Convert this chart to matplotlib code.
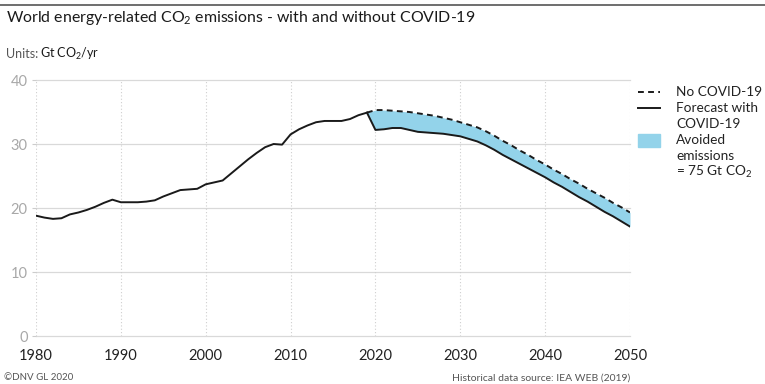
import matplotlib
matplotlib.use("Agg")
import matplotlib.pyplot as plt
from matplotlib.lines import Line2D
from matplotlib.patches import Rectangle

plt.rcParams['font.family'] = ['Lato', 'DejaVu Sans']
plt.rcParams['mathtext.fontset'] = 'custom'
plt.rcParams['mathtext.rm'] = 'Lato'
plt.rcParams['mathtext.bf'] = 'Lato:bold'
plt.rcParams['mathtext.default'] = 'rm'

hist_years = list(range(1980, 2020))
hist_values = [18.8, 18.5, 18.3, 18.4, 19.0, 19.3, 19.7, 20.2, 20.8, 21.3,
               20.9, 20.9, 20.9, 21.0, 21.2, 21.8, 22.3, 22.8, 22.9, 23.0,
               23.7, 24.0, 24.3, 25.4, 26.5, 27.6, 28.6, 29.5, 30.0, 29.9,
               31.5, 32.3, 32.9, 33.4, 33.6, 33.6, 33.6, 33.9, 34.5, 34.9]

fc_years = list(range(2019, 2051))
no_covid = [34.9, 35.3, 35.3, 35.2, 35.1, 35.0, 34.8, 34.6, 34.4, 34.1,
            33.8, 33.4, 33.0, 32.6, 32.0, 31.3, 30.5, 29.8, 29.0, 28.3,
            27.5, 26.8, 26.0, 25.3, 24.5, 23.8, 23.0, 22.3, 21.6, 20.8,
            20.1, 19.3]
with_covid = [34.9, 32.2, 32.3, 32.5, 32.5, 32.2, 31.9, 31.8, 31.7, 31.6,
              31.4, 31.2, 30.8, 30.4, 29.8, 29.1, 28.3, 27.6, 26.9, 26.2,
              25.5, 24.8, 24.0, 23.3, 22.5, 21.7, 21.0, 20.2, 19.4, 18.7,
              17.9, 17.1]

x_ticks = [1980, 1990, 2000, 2010, 2020, 2030, 2040, 2050]
y_ticks = [0, 10, 20, 30, 40]

W, H = 765, 384
fig = plt.figure(figsize=(7.65, 3.84), dpi=100)
ax = fig.add_axes([36 / W, 1 - 336 / H, (630 - 36) / W, (336 - 80) / H])

fill_color = '#93d3ea'
ax.fill_between(fc_years, with_covid, no_covid, color=fill_color, lw=0, zorder=2)
ax.plot(hist_years, hist_values, color='#1a1a1a', lw=1.4, zorder=4)
ax.plot(fc_years, with_covid, color='#1a1a1a', lw=1.4, zorder=4)
ax.plot(fc_years, no_covid, color='#1a1a1a', lw=1.4, ls=(0, (3, 2.2)), zorder=4)

ax.set_xlim(1980, 2050)
ax.set_ylim(0, 40)
ax.set_xticks(x_ticks)
ax.set_yticks(y_ticks)
for s in ax.spines.values():
    s.set_visible(False)
for y in y_ticks:
    ax.axhline(y, color='#d9d9d9', lw=0.9, zorder=1, clip_on=False)
for x in x_ticks:
    ax.axvline(x, color='#cfcfcf', lw=0.8, ls=(0, (1, 2)), zorder=1)
ax.tick_params(axis='y', length=3, color='#cccccc', labelcolor='#a8a8a8',
               labelsize=10.5, pad=3)
ax.tick_params(axis='x', length=0, labelcolor='#222222', labelsize=10.5, pad=9)

# Top rule and titles
fig.add_artist(Line2D([0, 1], [1 - 5 / H, 1 - 5 / H], color='#555555', lw=1.2))
fig.text(6 / W, 1 - 18 / H, 'World energy-related CO$_2$ emissions - with and without COVID-19',
         fontsize=11.4, color='#1a1a1a', va='center', ha='left')
fig.text(6 / W, 1 - 54 / H, 'Units:', fontsize=9, color='#555555', va='center', ha='left')
fig.text(40 / W, 1 - 54 / H, 'Gt CO$_2$/yr', fontsize=9, color='#1a1a1a', va='center',
         ha='left')

# Legend
lx0, lx1 = 638 / W, 660 / W
tx = 676 / W
fig.add_artist(Line2D([lx0, lx1], [1 - 92 / H] * 2, color='#1a1a1a', lw=1.4, ls=(0, (3, 2.2))))
fig.add_artist(Line2D([lx0, lx1], [1 - 108 / H] * 2, color='#1a1a1a', lw=1.4))
fig.add_artist(Rectangle((lx0, 1 - 147 / H), lx1 - lx0, 13 / H, color=fill_color,
                         transform=fig.transFigure))
leg_lines = ['No COVID-19', 'Forecast with', 'COVID-19', 'Avoided', 'emissions',
             '= 75 Gt CO$_2$']
for i, t in enumerate(leg_lines):
    fig.text(tx, 1 - (92 + 16 * i) / H, t, fontsize=9.8, color='#222222',
             va='center', ha='left')

# Footer
fig.text(4 / W, 1 - 378 / H, '©DNV GL 2020', fontsize=7, color='#555555', va='center')
fig.text(630 / W, 1 - 378 / H, 'Historical data source: IEA WEB (2019)', fontsize=7.5,
         color='#555555', va='center', ha='right')

fig.savefig('out.png', dpi=100)
